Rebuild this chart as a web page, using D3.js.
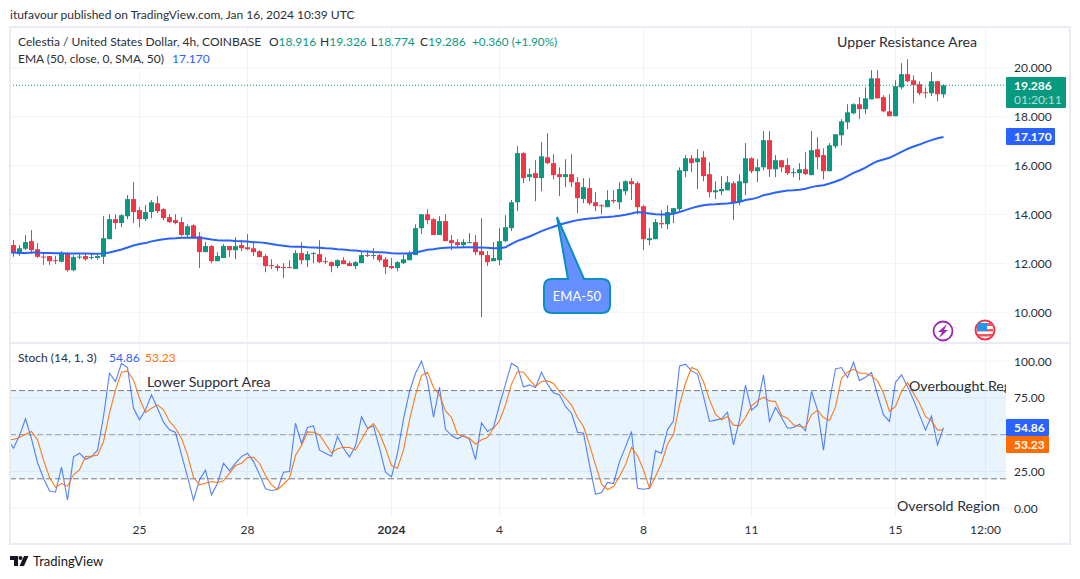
<!DOCTYPE html>
<html>
<head>
<meta charset="utf-8">
<title>Celestia / United States Dollar</title>
<script src="https://cdn.jsdelivr.net/npm/d3@7"></script>
<style>
  html, body { margin: 0; padding: 0; background: #fff; }
  svg { display: block; font-family: "Lato", "Open Sans", sans-serif; }
  .axis path { display: none; }
  .axis line { display: none; }
  .axis text { fill: #2a2e39; font-size: 12px; font-family: "Lato", "Open Sans", sans-serif; }
  .note { fill: #2a2e39; font-size: 14.2px; }
  .legend { fill: #2a2e39; font-size: 12px; }
</style>
</head>
<body>
<svg id="chart" width="1080" height="579"></svg>
<script>
const candles = [
  [12.75,12.95,12.27,12.42],[12.38,12.75,12.31,12.62],[12.60,13.16,12.54,12.87],[12.91,13.36,12.39,12.54],
  [12.58,12.83,12.22,12.27],[12.28,12.47,11.94,12.26],[12.30,12.30,11.94,12.09],[12.13,12.31,11.97,12.09],
  [12.07,12.50,12.05,12.42],[12.42,12.45,11.66,11.72],[11.72,12.34,11.68,12.26],[12.26,12.38,12.17,12.28],
  [12.30,12.38,12.11,12.17],[12.22,12.38,12.16,12.26],[12.22,12.38,12.15,12.30],[12.27,13.93,11.98,13.03],
  [12.99,14.01,12.99,13.81],[13.81,14.01,13.40,13.65],[13.65,14.01,13.48,13.97],[13.93,14.79,13.81,14.63],
  [14.63,15.32,13.65,14.10],[14.18,14.30,13.48,13.81],[13.81,14.38,13.73,14.10],[14.10,14.59,13.85,14.50],
  [14.46,14.75,14.05,14.14],[14.22,14.26,13.77,13.85],[13.89,14.01,13.65,13.69],[13.77,14.01,13.60,13.65],
  [13.69,13.89,13.11,13.16],[13.16,13.60,13.07,13.52],[13.56,13.60,13.06,13.07],[13.11,13.28,11.81,12.46],
  [12.46,12.87,12.46,12.71],[12.71,12.75,12.01,12.09],[12.09,12.46,12.09,12.30],[12.22,12.79,12.22,12.71],
  [12.71,12.71,12.26,12.54],[12.54,13.07,12.17,12.71],[12.75,12.95,12.50,12.62],[12.66,13.20,12.54,12.58],
  [12.62,12.87,12.30,12.46],[12.50,12.54,12.24,12.26],[12.30,12.38,11.64,11.89],[11.93,12.17,11.77,11.89],
  [11.89,11.97,11.68,11.81],[11.85,12.01,11.40,11.81],[11.85,12.13,11.81,11.81],[11.77,12.54,11.77,12.42],
  [12.42,12.87,11.97,12.13],[12.13,12.50,11.85,12.38],[12.38,12.46,12.01,12.42],[12.38,12.95,12.01,12.05],
  [12.09,12.26,11.97,12.05],[12.05,12.09,11.64,11.89],[11.89,12.17,11.81,12.13],[12.13,12.26,11.97,11.97],
  [12.01,12.09,11.89,11.89],[11.89,12.09,11.77,12.05],[12.01,12.46,12.01,12.34],[12.34,12.54,12.26,12.30],
  [12.30,12.62,12.17,12.34],[12.34,12.38,12.05,12.13],[12.17,12.26,11.56,11.85],[11.89,12.22,11.77,11.81],
  [11.81,12.09,11.68,12.05],[12.01,12.34,11.97,12.17],[12.13,12.50,12.13,12.42],[12.34,13.60,12.34,13.44],
  [13.44,14.01,13.20,14.01],[14.01,14.22,13.60,13.77],[13.81,13.85,13.16,13.16],[13.16,13.93,13.16,13.73],
  [13.73,14.01,12.91,12.91],[12.95,13.16,12.54,12.83],[12.87,12.99,12.66,12.75],[12.75,12.99,12.62,12.87],
  [12.83,13.24,12.83,12.87],[12.87,13.16,12.34,12.46],[12.50,13.85,9.80,12.34],[12.34,12.50,11.89,12.05],
  [12.09,12.87,12.09,12.22],[12.13,13.44,11.93,12.91],[12.91,13.97,12.87,13.48],[13.44,14.59,13.32,14.50],
  [14.50,16.79,14.14,16.51],[16.51,16.55,15.28,15.49],[15.53,15.89,15.36,15.65],[15.69,16.22,14.54,15.49],
  [15.49,16.96,14.95,16.38],[16.34,17.32,16.06,16.10],[16.10,16.47,15.44,15.61],[15.65,15.93,14.75,15.53],
  [15.53,16.26,15.12,15.65],[15.65,16.47,15.12,15.32],[15.32,15.53,14.05,14.67],[14.63,15.49,14.46,15.12],
  [15.08,15.49,14.38,14.46],[14.50,14.91,14.14,14.34],[14.38,14.42,14.01,14.34],[14.30,14.99,14.30,14.59],
  [14.59,14.99,14.46,14.54],[14.50,15.32,14.22,15.04],[14.95,15.40,14.79,15.36],[15.36,15.49,14.59,15.24],
  [15.28,15.36,14.01,14.30],[14.34,14.38,12.54,12.99],[12.95,13.44,12.75,13.03],[12.99,13.81,12.99,13.69],
  [13.65,14.18,13.44,13.60],[13.60,14.38,13.40,14.10],[14.05,14.26,13.65,14.26],[14.22,15.93,14.14,15.81],
  [15.77,16.43,15.53,16.30],[16.30,16.43,15.73,16.10],[16.14,16.67,15.04,16.30],[16.34,16.59,15.36,15.57],
  [15.65,16.14,14.71,14.91],[14.91,15.36,14.63,14.99],[14.95,15.57,14.79,15.04],[14.99,15.57,14.99,15.32],
  [15.28,15.36,13.77,14.50],[14.50,15.65,14.38,15.36],[15.28,16.92,14.79,16.30],[16.30,16.34,15.69,15.77],
  [15.77,16.26,15.32,15.93],[15.93,17.41,15.81,17.04],[17.04,17.41,15.53,15.85],[15.85,16.43,15.53,16.22],
  [16.22,16.22,15.73,15.93],[16.02,16.30,15.61,15.69],[15.69,15.89,15.53,15.73],[15.69,16.10,15.40,15.85],
  [15.85,16.55,15.61,15.65],[15.61,17.41,15.61,16.63],[16.67,17.16,15.85,16.34],[16.43,16.71,15.44,15.77],
  [15.77,16.92,15.77,16.83],[16.79,17.28,16.71,17.28],[17.24,17.90,16.83,17.81],[17.77,18.51,17.49,18.18],
  [18.14,18.55,18.10,18.51],[18.51,18.80,17.90,18.31],[18.31,19.20,18.10,18.75],[18.71,19.90,18.71,19.57],
  [19.57,19.90,18.75,18.75],[18.80,18.88,18.18,18.22],[18.22,18.92,18.02,18.02],[18.02,19.49,18.02,19.25],
  [19.20,20.19,19.12,19.74],[19.74,20.35,19.41,19.45],[19.49,19.69,18.55,19.29],[19.33,19.45,18.88,18.96],
  [19.00,19.20,18.75,18.96],[18.96,19.82,18.84,19.45],[19.45,19.45,18.63,18.92],[18.916,19.326,18.774,19.286]
];

// line values start one bar before the first candle, that bar gets clipped at the left edge
const emaValues = [
  12.45,12.45,12.43,12.43,12.45,12.45,12.43,12.43,12.42,12.42,12.41,12.41,12.41,12.41,12.39,12.39,12.41,
  12.45,12.51,12.57,12.65,12.73,12.79,12.83,12.90,12.95,12.99,13.02,13.03,13.05,13.05,13.06,13.05,13.02,12.98,
  12.95,12.94,12.94,12.92,12.91,12.90,12.87,12.86,12.83,12.79,12.75,12.72,12.69,12.68,12.68,12.66,12.65,
  12.64,12.62,12.61,12.58,12.57,12.54,12.53,12.50,12.49,12.47,12.46,12.45,12.42,12.41,12.41,12.41,12.45,
  12.50,12.56,12.58,12.62,12.64,12.65,12.65,12.66,12.66,12.65,12.65,12.64,12.62,12.62,12.66,12.80,12.92,
  13.01,13.10,13.21,13.32,13.41,13.50,13.58,13.65,13.71,13.77,13.81,13.84,13.86,13.89,13.90,13.92,13.95,
  13.99,14.04,14.10,14.07,14.04,14.01,14.00,14.00,14.03,14.10,14.18,14.26,14.33,14.38,14.41,14.42,14.44,
  14.45,14.48,14.52,14.59,14.63,14.69,14.79,14.84,14.90,14.94,14.98,14.99,15.01,15.05,15.12,15.17,15.20,
  15.27,15.35,15.44,15.57,15.70,15.80,15.92,16.06,16.18,16.25,16.32,16.44,16.56,16.68,16.78,16.86,16.96,
  17.04,17.12,17.17
];
const stochK = [
  46.9,40.8,49.4,60.8,47.2,31.1,20.4,11.8,10.9,27.9,5.4,34.9,37.4,33.3,34.9,39.5,62.4,91.8,86.2,98.6,95.7,
  68.0,60.1,66.9,77.1,68.0,58.5,53.3,51.5,36.3,21.5,5.4,19.3,25.9,9.1,17.0,30.6,25.4,30.6,35.1,37.4,31.7,
  23.0,13.2,12.0,12.7,24.5,24.9,57.8,44.0,54.9,56.0,39.5,37.4,35.4,48.8,40.8,34.9,42.4,62.1,54.4,56.0,40.8,
  24.5,21.3,37.4,60.8,79.4,91.8,100,86.6,61.9,82.3,53.7,49.4,47.2,49.4,46.9,33.1,58.0,52.2,54.9,70.3,84.4,
  98.6,96.1,82.5,83.9,82.1,92.5,84.4,78.5,77.1,69.2,64.6,51.7,51.0,29.5,9.5,10.7,17.5,16.8,31.7,41.7,52.2,
  13.6,12.9,13.6,39.0,37.4,53.3,59.4,96.6,98.0,93.4,91.2,76.0,59.0,59.9,60.8,65.3,43.1,60.1,83.7,66.7,70.3,
  90.7,59.0,68.5,61.7,54.4,54.9,57.1,52.6,79.4,66.9,39.5,72.6,94.8,95.7,88.9,99.3,86.8,89.1,92.3,77.1,63.5,
  59.0,85.5,90.7,82.8,73.7,63.5,53.1,62.6,43.1,54.86
];
const stochD = [
  46.7,46.7,48.1,50.3,52.2,46.5,32.9,20.9,14.3,16.8,15.0,22.7,26.1,35.1,35.4,36.1,45.4,64.6,80.5,92.5,93.4,
  87.3,74.8,65.1,68.0,70.3,66.9,59.0,54.4,47.6,36.3,20.9,15.9,17.0,18.1,17.5,18.6,23.8,29.0,30.6,34.5,34.7,
  30.6,22.2,15.9,12.7,16.3,20.4,35.8,42.6,51.9,51.7,49.9,43.8,37.6,40.4,41.5,41.3,39.5,46.5,54.0,57.6,51.0,
  40.8,29.0,27.2,39.7,60.1,77.1,90.2,92.5,82.1,77.1,66.2,61.7,50.3,48.8,47.6,43.5,46.5,48.1,54.4,59.4,70.3,
  84.4,93.0,92.5,87.3,82.8,86.2,86.6,84.8,79.4,74.8,70.3,61.7,55.6,43.1,29.5,16.3,12.7,14.7,21.5,29.5,41.5,
  35.6,26.1,13.6,21.5,30.6,43.5,50.3,70.3,85.0,95.7,94.1,86.2,73.7,63.9,60.1,62.4,56.5,56.0,61.7,69.6,73.0,
  75.5,73.0,72.6,63.0,61.2,56.7,55.6,55.1,63.5,66.7,61.7,59.6,68.9,88.4,92.5,94.6,91.8,91.8,90.0,86.6,78.2,
  65.8,69.2,79.4,85.5,78.2,71.4,62.4,59.4,53.1,53.23
];

const priceTicks = [10, 12, 14, 16, 18, 20];
const stochGrid = [0, 25, 50, 75, 100];
const stochTicks = [0, 25, 75, 100]; // 50 sits behind the value labels
const stochLevels = [80, 50, 20];
const timeTickBars = [21, 39, 63, 81, 105, 123, 147, 162];
const timeTickLabels = ["25", "28", "2024", "4", "8", "11", "15", "12:00"];

const lastClose = 19.286, lastEma = 17.17, lastK = 54.86, lastD = 53.23;

const green = "#089981", red = "#f23645", blue = "#2962ff", orange = "#ff6d00";
const gridColor = "#f0f3fa", frameColor = "#e9ecf3";
const left = 10, right = 1006, paneTop = 28, paneMid = 343, paneBottom = 516;

const svg = d3.select("#chart");

const x = d3.scaleLinear().domain([0, 155]).range([13.5, 943.5]);
const y = d3.scaleLinear().domain([10, 20]).range([312.3, 67.8]);
const yStoch = d3.scaleLinear().domain([0, 100]).range([508.2, 361.2]);

svg.append("text").attr("x", 10).attr("y", 19).attr("fill", "#2a2e39").style("font-size", "12px")
  .text("itufavour published on TradingView.com, Jan 16, 2024 10:39 UTC");

// clip areas for the two panes
const defs = svg.append("defs");
defs.append("clipPath").attr("id", "clipPrice").append("rect")
  .attr("x", left).attr("y", paneTop).attr("width", right - left).attr("height", paneMid - paneTop);
defs.append("clipPath").attr("id", "clipStoch").append("rect")
  .attr("x", left).attr("y", paneMid).attr("width", right - left).attr("height", paneBottom - paneMid);

// grid
svg.append("g").selectAll("line").data(priceTicks).enter().append("line")
  .attr("x1", left).attr("x2", right).attr("y1", d => y(d)).attr("y2", d => y(d))
  .attr("stroke", gridColor);
svg.append("g").selectAll("line").data(stochGrid).enter().append("line")
  .attr("x1", left).attr("x2", right).attr("y1", d => yStoch(d)).attr("y2", d => yStoch(d))
  .attr("stroke", gridColor);
svg.append("g").selectAll("line").data(timeTickBars).enter().append("line")
  .attr("x1", d => x(d)).attr("x2", d => x(d)).attr("y1", paneTop).attr("y2", paneBottom)
  .attr("stroke", gridColor);

// candles
const price = svg.append("g").attr("clip-path", "url(#clipPrice)");
const candle = price.selectAll("g").data(candles).enter().append("g")
  .attr("fill", d => d[3] >= d[0] ? green : red);
candle.append("rect").attr("x", (d, i) => x(i) - 0.5).attr("width", 1)
  .attr("y", d => y(d[1])).attr("height", d => y(d[2]) - y(d[1]));
candle.append("rect").attr("x", (d, i) => x(i) - 2.5).attr("width", 5)
  .attr("y", d => y(Math.max(d[0], d[3])))
  .attr("height", d => Math.max(1, Math.abs(y(d[0]) - y(d[3]))));

// last price line
svg.append("line").attr("x1", left).attr("x2", right).attr("y1", y(lastClose)).attr("y2", y(lastClose))
  .attr("stroke", green).attr("stroke-dasharray", "1 2");

// EMA
const emaLine = d3.line().x((d, i) => x(i - 1)).y(d => y(d));
price.append("path").datum(emaValues).attr("d", emaLine)
  .attr("fill", "none").attr("stroke", blue).attr("stroke-width", 2);

// stochastic band and levels
svg.append("rect").attr("x", left).attr("width", right - left)
  .attr("y", yStoch(80)).attr("height", yStoch(20) - yStoch(80))
  .attr("fill", "#2196f3").attr("fill-opacity", 0.1);
svg.append("g").selectAll("line").data(stochLevels).enter().append("line")
  .attr("x1", left).attr("x2", right).attr("y1", d => yStoch(d)).attr("y2", d => yStoch(d))
  .attr("stroke", "#787b86").attr("stroke-opacity", d => d === 50 ? 0.7 : 1)
  .attr("stroke-dasharray", "6 3");

const stochPane = svg.append("g").attr("clip-path", "url(#clipStoch)");
const stochLine = d3.line().x((d, i) => x(i - 1)).y(d => yStoch(d));
stochPane.append("path").datum(stochK).attr("d", stochLine)
  .attr("fill", "none").attr("stroke", blue).attr("stroke-opacity", 0.8).attr("stroke-width", 1.1);
stochPane.append("path").datum(stochD).attr("d", stochLine)
  .attr("fill", "none").attr("stroke", orange).attr("stroke-opacity", 0.9).attr("stroke-width", 1.1);

// frame
svg.append("rect").attr("x", 10).attr("y", 27).attr("width", 1060).attr("height", 517)
  .attr("fill", "none").attr("stroke", frameColor).attr("stroke-width", 2);
svg.append("line").attr("x1", left).attr("x2", 1070).attr("y1", paneMid).attr("y2", paneMid)
  .attr("stroke", frameColor).attr("stroke-width", 2);

// axes
svg.append("g").attr("class", "axis").attr("transform", "translate(1006,0)")
  .call(d3.axisRight(y).tickValues(priceTicks).tickSize(0).tickPadding(8).tickFormat(d3.format(".3f")));
svg.append("g").attr("class", "axis").attr("transform", "translate(1006,0)")
  .call(d3.axisRight(yStoch).tickValues(stochTicks).tickSize(0).tickPadding(8).tickFormat(d3.format(".2f")));
svg.append("g").attr("class", "axis").attr("transform", "translate(-0.5,522)")
  .call(d3.axisBottom(x).tickValues(timeTickBars).tickSize(0).tickPadding(3)
    .tickFormat((d, i) => timeTickLabels[i]))
  .selectAll("text").style("font-weight", (d, i) => timeTickLabels[i] === "2024" ? "bold" : null);

// price scale labels
function axisLabel(yTop, w, h, fill) {
  return svg.append("rect").attr("x", right).attr("y", yTop).attr("width", w).attr("height", h)
    .attr("rx", 1).attr("fill", fill);
}
function axisText(yPos, str, opacity) {
  return svg.append("text").attr("x", 1014).attr("y", yPos).attr("fill", "#fff")
    .attr("fill-opacity", opacity || 1).style("font-size", "12px").style("font-weight", "bold").text(str);
}
axisLabel(77, 60, 31, green);
axisText(90, d3.format(".3f")(lastClose));
axisText(104, "01:20:11", 0.7).style("font-weight", "normal");
axisLabel(128, 49, 17, blue);
axisText(141, d3.format(".3f")(lastEma));
axisLabel(419, 43, 17, blue);
axisText(432, d3.format(".2f")(lastK));
axisLabel(436, 43, 17, orange);
axisText(449, d3.format(".2f")(lastD));

// legend
const legend1 = svg.append("text").attr("class", "legend").attr("x", 18).attr("y", 46);
legend1.append("tspan").text("Celestia / United States Dollar, 4h, COINBASE");
[["O", "18.916", 269], ["H", "19.326", 320], ["L", "18.774", 371], ["C", "19.286", 420]].forEach(p => {
  legend1.append("tspan").attr("x", p[2]).text(p[0]);
  legend1.append("tspan").attr("fill", green).text(p[1]);
});
legend1.append("tspan").attr("x", 472).attr("fill", green).style("font-size", "11.7px").text("+0.360 (+1.90%)");

const legend2 = svg.append("text").attr("class", "legend").attr("x", 18).attr("y", 63);
legend2.append("tspan").text("EMA (50, close, 0, SMA, 50)");
legend2.append("tspan").attr("x", 172).attr("fill", blue).text("17.170");

const legend3 = svg.append("text").attr("class", "legend").attr("x", 18).attr("y", 362);
legend3.append("tspan").text("Stoch (14, 1, 3)");
legend3.append("tspan").attr("x", 109).attr("fill", blue).text("54.86");
legend3.append("tspan").attr("x", 145).attr("fill", orange).text("53.23");

// drawn notes
svg.append("text").attr("class", "note").attr("x", 837).attr("y", 47).text("Upper Resistance Area");
svg.append("text").attr("class", "note").attr("x", 147).attr("y", 387).text("Lower Support Area");
svg.append("g").attr("clip-path", "url(#clipStoch)").append("text").attr("class", "note")
  .attr("x", 909).attr("y", 391).text("Overbought Reg");
svg.append("text").attr("class", "note").attr("x", 897).attr("y", 511).text("Oversold Region");

// EMA-50 callout
svg.append("path")
  .attr("d", "M552,279 L568,279 L557,217 L584,279 L602,279 Q610,279 610,287 L610,305 Q610,313 602,313 L552,313 Q544,313 544,305 L544,287 Q544,279 552,279 Z")
  .attr("fill", "#6690ff").attr("stroke", "#0a8fc4").attr("stroke-width", 2);
svg.append("text").attr("x", 577).attr("y", 301).attr("text-anchor", "middle")
  .attr("fill", "#fff").style("font-size", "13px").text("EMA-50");

// chart icons
const bolt = svg.append("g").attr("transform", "translate(943,331)");
bolt.append("circle").attr("r", 9.5).attr("fill", "#fff").attr("stroke", "#9c27b0").attr("stroke-width", 1.8);
bolt.append("path").attr("d", "M4,-7 L-5,1 L-1,1 L-4,7 L5,-1 L1,-1 Z").attr("fill", "#9c27b0");
const flag = svg.append("g").attr("transform", "translate(985,330)");
flag.append("circle").attr("r", 9.5).attr("fill", "#fff").attr("stroke", "#f23645").attr("stroke-width", 2);
flag.append("rect").attr("x", -8).attr("y", -1).attr("width", 16).attr("height", 2.5).attr("fill", "#f7525f");
flag.append("rect").attr("x", -7).attr("y", 4).attr("width", 14).attr("height", 2.5).attr("fill", "#f7525f");
flag.append("rect").attr("x", -8).attr("y", -7).attr("width", 16).attr("height", 3).attr("fill", "#f7525f");
flag.append("rect").attr("x", -8).attr("y", -7).attr("width", 10).attr("height", 8).attr("fill", "#2196f3");

// TradingView mark
const logo = svg.append("g").attr("transform", "translate(10,556)").attr("fill", "#131722");
logo.append("path").attr("d", "M0,0 H8 V10 H4 V4 H0 Z");
logo.append("circle").attr("cx", 10.5).attr("cy", 2).attr("r", 2);
logo.append("path").attr("d", "M14,0 H18.5 L14,10 H9.5 Z");
svg.append("text").attr("x", 33).attr("y", 566).attr("fill", "#131722")
  .style("font-size", "13px").text("TradingView");
</script>
</body>
</html>
